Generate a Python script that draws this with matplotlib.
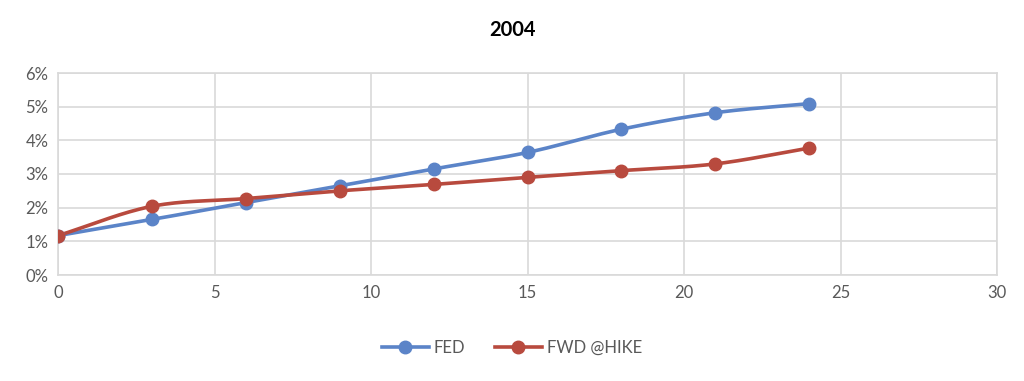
import numpy as np
import matplotlib
matplotlib.use("Agg")
import matplotlib.pyplot as plt
from matplotlib.ticker import FuncFormatter
from matplotlib.lines import Line2D

months = [0, 3, 6, 9, 12, 15, 18, 21, 24]
fed = [1.17, 1.65, 2.15, 2.65, 3.15, 3.64, 4.33, 4.82, 5.09]
fwd_hike = [1.17, 2.04, 2.27, 2.50, 2.69, 2.90, 3.10, 3.30, 3.77]
series_names = ["FED", "FWD @HIKE"]
colors = ["#5B84C8", "#B84A3E"]
title = "2004"

plt.rcParams['font.family'] = ['Lato', 'DejaVu Sans']


def smooth(x, y, n=30):
    # Catmull-Rom spline through the data points (display smoothing, like Excel)
    x = np.asarray(x, float)
    y = np.asarray(y, float)
    px = np.concatenate([[2 * x[0] - x[1]], x, [2 * x[-1] - x[-2]]])
    py = np.concatenate([[2 * y[0] - y[1]], y, [2 * y[-1] - y[-2]]])
    xs, ys = [], []
    t = np.linspace(0, 1, n)
    for i in range(1, len(px) - 2):
        p0, p1, p2, p3 = [np.array([px[j], py[j]]) for j in (i - 1, i, i + 1, i + 2)]
        tt = t[:, None]
        pts = 0.5 * ((2 * p1) + (-p0 + p2) * tt + (2 * p0 - 5 * p1 + 4 * p2 - p3) * tt ** 2
                     + (-p0 + 3 * p1 - 3 * p2 + p3) * tt ** 3)
        xs.extend(pts[:, 0])
        ys.extend(pts[:, 1])
    return np.array(xs), np.array(ys)


fig = plt.figure(figsize=(10.24, 3.81), dpi=100)
ax = fig.add_axes([58 / 1024, 1 - 275 / 381, (997 - 58) / 1024, (275 - 73) / 381])

for vals, c in zip([fed, fwd_hike], colors):
    sx, sy = smooth(months, vals)
    ax.plot(sx, sy, color=c, lw=2.6, solid_capstyle='round', zorder=3)
    ax.plot(months, vals, 'o', color=c, ms=9, zorder=4)

ax.set_xlim(0, 30)
ax.set_ylim(0, 6)
ax.set_xticks(range(0, 31, 5))
ax.set_yticks(range(0, 7))
ax.yaxis.set_major_formatter(FuncFormatter(lambda v, p: f"{int(v)}%"))
ax.grid(True, color="#D9D9D9", lw=1.2)
ax.set_axisbelow(True)
for s in ax.spines.values():
    s.set_color("#D9D9D9")
    s.set_linewidth(1.2)
ax.tick_params(length=0, colors="#595959", labelsize=12, pad=7)

fig.text(0.5, 1 - 30 / 381, title, ha='center', va='center', fontsize=14.5, fontweight='bold', color='black')

handles = [Line2D([0], [0], color=c, lw=2.6, marker='o', ms=9) for c in colors]
leg = fig.legend(handles, series_names, loc='center', bbox_to_anchor=(0.5, 1 - 348 / 381),
                 ncol=2, frameon=False, fontsize=12, handlelength=2.8, columnspacing=1.8,
                 handletextpad=0.3)
for t in leg.get_texts():
    t.set_color("#595959")

fig.savefig("out.png", dpi=100)
